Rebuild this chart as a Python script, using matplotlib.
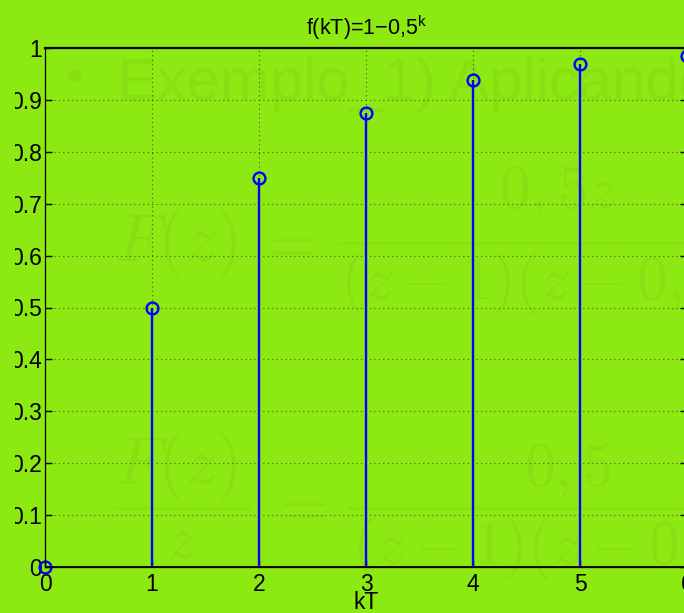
import matplotlib
matplotlib.use("Agg")
import matplotlib.pyplot as plt
from matplotlib.lines import Line2D
from matplotlib.transforms import Bbox, TransformedBbox

# sample index kT and the sequence values f(kT)
kT = [0, 1, 2, 3, 4, 5, 6]
f_kT = [0.0, 0.5, 0.75, 0.875, 0.9375, 0.96875, 0.984375]
x_ticks = [0, 1, 2, 3, 4, 5, 6]
y_ticks = [0, 0.1, 0.2, 0.3, 0.4, 0.5, 0.6, 0.7, 0.8, 0.9, 1]
y_labels = ["0", "0.1", "0.2", "0.3", "0.4", "0.5", "0.6", "0.7", "0.8", "0.9", "1"]

BG = "#8DE912"
FAINT = "#88E013"
W, H = 684, 613

plt.rcParams["font.family"] = ["Liberation Sans", "DejaVu Sans"]
plt.rcParams["mathtext.fontset"] = "custom"
plt.rcParams["mathtext.rm"] = "Liberation Sans"
plt.rcParams["mathtext.it"] = "Liberation Sans:italic"

fig = plt.figure(figsize=(W / 100, H / 100), dpi=100, facecolor=BG)


def px(x, y):
    # pixel position (from top-left) -> figure fraction
    return x / W, 1 - y / H


def faint(x, y, s, size=44, ha="left", va="center"):
    fig.text(*px(x, y), s, fontsize=size, color=FAINT, ha=ha, va=va,
             math_fontfamily="cm", zorder=-5)


def faint_bar(x0, x1, y):
    fig.add_artist(Line2D([x0 / W, x1 / W], [1 - y / H, 1 - y / H], color=FAINT,
                          linewidth=1.8, zorder=-5))


# faint slide content behind the plot
fig.text(*px(75, 80), "\u2022", fontsize=34, color=FAINT, ha="center", va="center",
         family="DejaVu Sans", zorder=-5)
fig.text(*px(117, 100), "Exemplo_1) Aplicando", fontsize=43, color=FAINT,
         va="baseline", zorder=-5)

faint(114, 243, r"$F(z)$", size=49)
faint(287, 244, r"$=$", ha="center")
faint_bar(338, 700, 243)
faint(559, 222, r"$0,5z$", ha="center", va="bottom")
faint(340, 250, r"$(z-1)(z-0,5)$", va="top")

faint(114, 466, r"$F(z)$", size=49)
faint_bar(115, 249, 508)
faint(182, 514, r"$z$", ha="center", va="top")
faint(298, 509, r"$=$", ha="center")
faint_bar(348, 700, 508)
faint(568, 500, r"$0,5$", ha="center", va="bottom")
faint(352, 515, r"$(z-1)(z-0,5)$", va="top")

ax = fig.add_axes([45 / W, 46 / H, 642 / W, 519 / H])
ax.set_facecolor("none")

markerline, stemlines, baseline = ax.stem(kT, f_kT, basefmt="k-")
plt.setp(stemlines, color="#0000FF", linewidth=1.7)
plt.setp(markerline, color="#0000FF", marker="o", markerfacecolor="none",
         markersize=8.5, markeredgewidth=1.7, clip_on=False)
plt.setp(baseline, color="black", linewidth=2)

ax.set_xlim(0, 6)
ax.set_ylim(0, 1)
ax.set_xticks(x_ticks)
ax.set_yticks(y_ticks)
ax.set_yticklabels(y_labels)
ax.grid(True, color="#222222", linestyle=(0, (1, 3)), linewidth=0.8, alpha=0.7)
ax.tick_params(direction="in", length=5, width=1, labelsize=16.5, top=False, right=True)
ax.tick_params(axis="y", pad=2)
ax.tick_params(axis="x", pad=4)

for side in ["left", "right", "bottom"]:
    ax.spines[side].set_linewidth(0.9)
ax.spines["top"].set_linewidth(1.6)

ax.set_title(r"f(kT)=1$-$0,5$^{\mathrm{k}}$", fontsize=15.5, pad=9)
ax.set_xlabel("kT", fontsize=16.5, labelpad=-3)

# the source picture is cut off a little left of the y tick labels
fig.canvas.draw()
clip = TransformedBbox(Bbox([[15 / W, 0], [1, 1]]), fig.transFigure)
for lab in ax.get_yticklabels():
    lab.set_clip_box(clip)
    lab.set_clip_on(True)

plt.savefig("out.png", dpi=100, facecolor=BG)
